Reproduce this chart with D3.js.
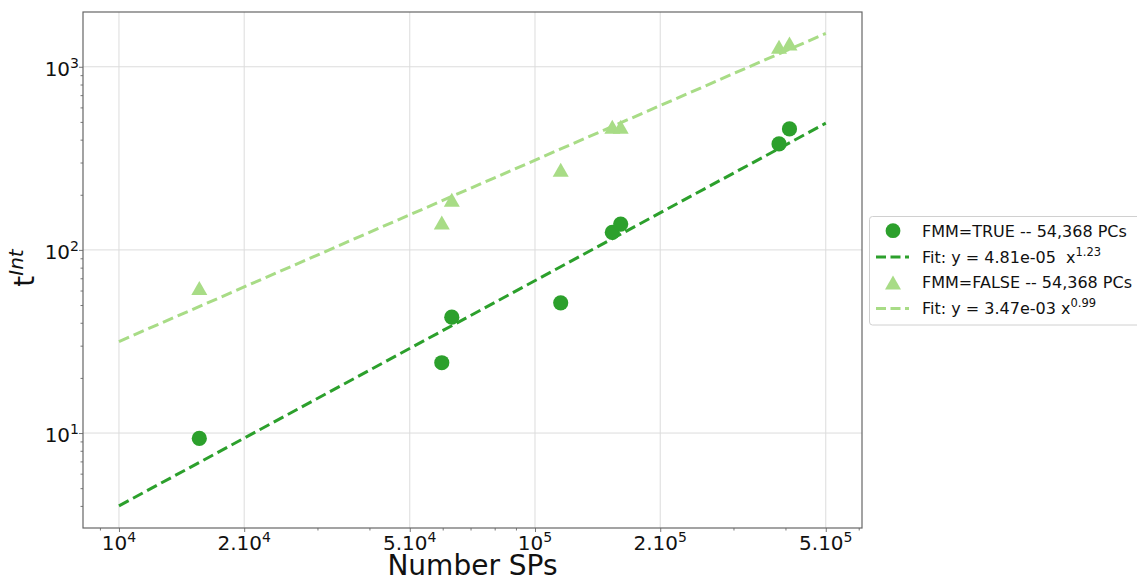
<!DOCTYPE html>
<html><head><meta charset="utf-8">
<script src="https://cdn.jsdelivr.net/npm/d3@7"></script>
<style>body{margin:0;background:#fff}svg{display:block;font-family:"DejaVu Sans",sans-serif}</style>
</head><body><svg id="c" width="1137" height="580"></svg>
<script>
// data
const trueX = [15600, 59700, 63100, 115300, 153400, 160700, 386000, 409000];
const trueY = [9.35, 24.2, 42.9, 51.4, 124.5, 138.4, 379, 458];
const falseX = [15600, 59700, 63100, 115300, 153400, 160700, 386000, 409000];
const falseY = [62.0, 141, 188, 274, 471, 471, 1285, 1341];
const fitX = [1e4, 5e5];
const fitTrueY = [4.0, 492];
const fitFalseY = [31.6, 1521];
const xTicks = [1e4, 2e4, 5e4, 1e5, 2e5, 5e5];
const xTickPre = ["", "2.", "5.", "", "2.", "5."];
const xTickExp = ["4", "4", "4", "5", "5", "5"];
const yTicks = [10, 100, 1000];
const yTickExp = ["1", "2", "3"];
const legendLabels = ["FMM=TRUE -- 54,368 PCs", "Fit: y = 4.81e-05  x", "FMM=FALSE -- 54,368 PCs", "Fit: y = 3.47e-03 x"];
const legendSup = ["", "1.23", "", "0.99"];

const dark = "#2ca02c", light = "#a8dc86";
const L = 83, R = 862, T = 12, B = 528;
const svg = d3.select("#c");
const x = d3.scaleLog().domain([8195, 611000]).range([L, R]);
const y = d3.scaleLog().domain([1991, 3.03]).range([T, B]);

// grid
const g = svg.append("g");
g.selectAll(".gx").data(xTicks).join("line")
  .attr("x1", d => x(d)).attr("x2", d => x(d)).attr("y1", T).attr("y2", B)
  .attr("stroke", "#dcdcdc").attr("stroke-width", 1);
g.selectAll(".gy").data(yTicks).join("line")
  .attr("y1", d => y(d)).attr("y2", d => y(d)).attr("x1", L).attr("x2", R)
  .attr("stroke", "#dcdcdc").attr("stroke-width", 1);

const minorX = [];
for (let e = 3; e <= 5; e++) for (let m = 1; m <= 9; m++) { const v = m * Math.pow(10, e); if (v >= 8195 && v <= 611000 && !xTicks.includes(v)) minorX.push(v); }
const minorY = [];
for (let e = 0; e <= 3; e++) for (let m = 1; m <= 9; m++) { const v = m * Math.pow(10, e); if (v >= 3.03 && v <= 1991 && !yTicks.includes(v)) minorY.push(v); }

const ax = svg.append("g").attr("transform", `translate(0,${B})`)
  .call(d3.axisBottom(x).tickValues(xTicks).tickSize(4).tickFormat(""));
const axm = svg.append("g").attr("transform", `translate(0,${B})`)
  .call(d3.axisBottom(x).tickValues(minorX).tickSize(2.5).tickFormat(""));
const ay = svg.append("g").attr("transform", `translate(${L},0)`)
  .call(d3.axisLeft(y).tickValues(yTicks).tickSize(4).tickFormat(""));
const aym = svg.append("g").attr("transform", `translate(${L},0)`)
  .call(d3.axisLeft(y).tickValues(minorY).tickSize(2.5).tickFormat(""));
[ax, axm, ay, aym].forEach(a => { a.select(".domain").remove(); a.selectAll("line").attr("stroke", "#555").attr("stroke-width", 0.8); });

// frame
svg.append("rect").attr("x", L).attr("y", T).attr("width", R - L).attr("height", B - T)
  .attr("fill", "none").attr("stroke", "#666").attr("stroke-width", 1.2);

// tick labels
xTicks.forEach((v, i) => {
  const t = svg.append("text").attr("x", x(v)).attr("y", 550).attr("text-anchor", "middle")
    .attr("font-size", 20).attr("fill", "#111");
  t.append("tspan").text(xTickPre[i] + "10");
  t.append("tspan").attr("dy", -8).attr("font-size", 14).text(xTickExp[i]);
});
yTicks.forEach((v, i) => {
  const t = svg.append("text").attr("x", 79).attr("y", y(v) + 9).attr("text-anchor", "end")
    .attr("font-size", 20).attr("fill", "#111");
  t.append("tspan").text("10");
  t.append("tspan").attr("dy", -8).attr("font-size", 14).text(yTickExp[i]);
});

// axis titles
svg.append("text").attr("x", (L + R) / 2).attr("y", 574.5).attr("text-anchor", "middle")
  .attr("font-size", 28).attr("fill", "#111").text("Number SPs");
const yl = svg.append("text").attr("transform", "translate(34,268) rotate(-90)").attr("text-anchor", "middle")
  .attr("font-size", 28).attr("fill", "#111");
yl.append("tspan").text("t");
yl.append("tspan").attr("dy", -11).attr("font-size", 20).attr("font-style", "italic").text("Int");

// clip
svg.append("clipPath").attr("id", "clip").append("rect").attr("x", L).attr("y", T).attr("width", R - L).attr("height", B - T);
const plot = svg.append("g").attr("clip-path", "url(#clip)");

const line = d3.line().x(d => x(d[0])).y(d => y(d[1]));
plot.append("path").datum(fitX.map((v, i) => [v, fitFalseY[i]])).attr("d", line)
  .attr("fill", "none").attr("stroke", light).attr("stroke-width", 3).attr("stroke-dasharray", "11,5");
plot.append("path").datum(fitX.map((v, i) => [v, fitTrueY[i]])).attr("d", line)
  .attr("fill", "none").attr("stroke", dark).attr("stroke-width", 3).attr("stroke-dasharray", "11,5");

const tri = d3.symbol().type({draw(ctx, s) { ctx.moveTo(0, -7); ctx.lineTo(8, 7); ctx.lineTo(-8, 7); ctx.closePath(); }});
plot.selectAll(".tri").data(falseX.map((v, i) => [v, falseY[i]])).join("path")
  .attr("d", tri()).attr("transform", d => `translate(${x(d[0])},${y(d[1])})`).attr("fill", light);
plot.selectAll(".cir").data(trueX.map((v, i) => [v, trueY[i]])).join("circle")
  .attr("cx", d => x(d[0])).attr("cy", d => y(d[1])).attr("r", 7.6).attr("fill", dark);

// legend
const lg = svg.append("g");
lg.append("rect").attr("x", 869.5).attr("y", 216.5).attr("width", 280).attr("height", 108.5).attr("rx", 3)
  .attr("fill", "#fff").attr("stroke", "#d0d0d0").attr("stroke-width", 1);
const rows = [230.7, 257, 282.5, 308.5];
lg.append("circle").attr("cx", 893).attr("cy", rows[0]).attr("r", 7.4).attr("fill", dark);
lg.append("line").attr("x1", 876).attr("x2", 909).attr("y1", rows[1]).attr("y2", rows[1]).attr("stroke", dark).attr("stroke-width", 3).attr("stroke-dasharray", "10,4.5");
lg.append("path").attr("d", tri()).attr("transform", `translate(893,${rows[2]})`).attr("fill", light);
lg.append("line").attr("x1", 876).attr("x2", 909).attr("y1", rows[3]).attr("y2", rows[3]).attr("stroke", light).attr("stroke-width", 3).attr("stroke-dasharray", "10,4.5");
legendLabels.forEach((s, i) => {
  const t = lg.append("text").attr("x", 922).attr("y", rows[i] + 5.8).attr("font-size", 16).attr("fill", "#111")
    .attr("xml:space", "preserve").style("white-space", "pre");
  t.append("tspan").text(s);
  if (legendSup[i]) t.append("tspan").attr("dy", -7).attr("font-size", 11.5).text(legendSup[i]);
});
</script></body></html>
